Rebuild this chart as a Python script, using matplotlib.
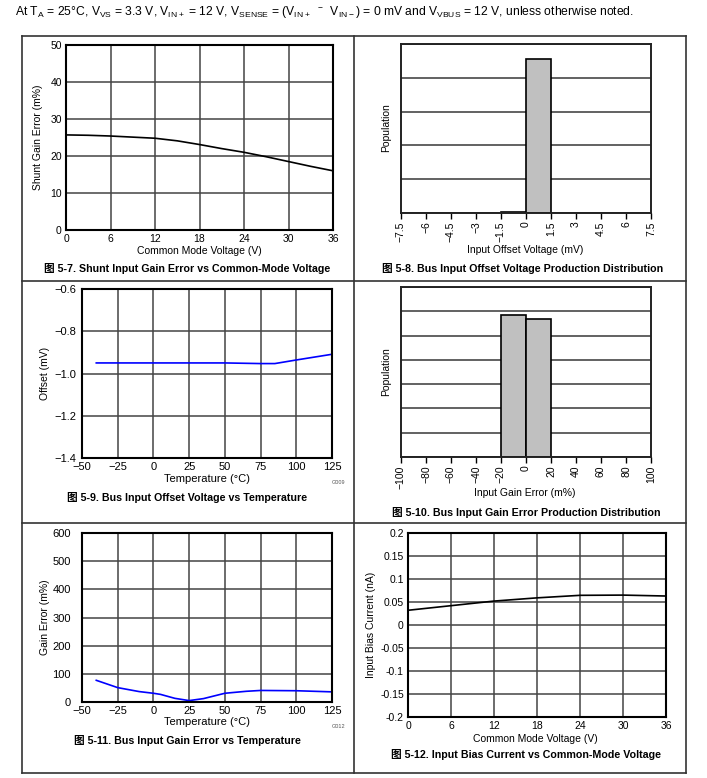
import matplotlib
matplotlib.use("Agg")
import matplotlib.pyplot as plt
from matplotlib.lines import Line2D
from matplotlib.ticker import FuncFormatter, MultipleLocator

plt.rcParams['font.family'] = ['Liberation Sans', 'Noto Sans CJK SC', 'DejaVu Sans']
plt.rcParams['mathtext.fontset'] = 'custom'
plt.rcParams['mathtext.rm'] = 'Liberation Sans'

# Data ----------------------------------------------------------------------------------------
# 5-7 shunt input gain error vs common-mode voltage
cmVolt = [0, 3, 6, 9, 12, 15, 18, 21, 24, 27, 30, 33, 36]
shuntGainErr = [25.7, 25.6, 25.4, 25.1, 24.8, 24.1, 23.1, 22.0, 21.0, 19.8, 18.5, 17.2, 16.0]

# 5-8 bus input offset voltage distribution (bin left edge, relative population)
offsetBins = [-1.5, 0.0]
offsetPop = [0.04, 4.56]
offsetBinWidth = 1.5

# 5-9 bus input offset vs temperature
tempOffset = [-40, -25, 0, 25, 50, 75, 85, 100, 125]
busOffset = [-0.950, -0.950, -0.950, -0.950, -0.950, -0.953, -0.953, -0.936, -0.909]

# 5-10 bus input gain error distribution
gainBins = [-20, 0]
gainPop = [5.83, 5.67]
gainBinWidth = 20

# 5-11 bus input gain error vs temperature
tempGain = [-40, -25, -10, 0, 5, 15, 25, 35, 50, 65, 75, 100, 125]
busGainErr = [77, 51, 37, 31, 27, 13, 5, 12, 31, 38, 41, 40, 36]

# 5-12 input bias current vs common-mode voltage
cmVoltBias = [0, 6, 12, 18, 24, 30, 36]
biasCurrent = [0.032, 0.042, 0.052, 0.059, 0.0645, 0.065, 0.063]
# ---------------------------------------------------------------------------------------------

W, H = 707, 778
fig = plt.figure(figsize=(W/100, H/100), dpi=100)


def rect(l, t, r, b):
    return [l/W, 1 - b/H, (r - l)/W, (b - t)/H]


def ftext(x, y, s, **kw):
    kw.setdefault('ha', 'center')
    kw.setdefault('va', 'center')
    fig.text(x/W, 1 - y/H, s, **kw)


def uminus(fmt):
    return FuncFormatter(lambda v, p: (fmt % v).replace('-', '\u2212'))


capFont = dict(fontsize=7.7, fontweight='bold', family=['Liberation Sans', 'Noto Sans CJK SC'])
gridKw = dict(color='#444444', lw=1.1)


def line_axes(box, xlim, xstep, ylim, ystep, tick_fs):
    ax = fig.add_axes(rect(*box))
    ax.set_xlim(*xlim)
    ax.set_ylim(*ylim)
    ax.xaxis.set_major_locator(MultipleLocator(xstep))
    ax.yaxis.set_major_locator(MultipleLocator(ystep))
    ax.grid(True, **gridKw)
    ax.tick_params(length=0, labelsize=tick_fs, pad=3)
    for s in ax.spines.values():
        s.set_linewidth(1.5)
        s.set_color('black')
    ax.set_axisbelow(True)
    return ax


def hist_axes(box, xlim, xstep, ylim):
    ax = fig.add_axes(rect(*box))
    ax.set_xlim(*xlim)
    ax.set_ylim(*ylim)
    ax.xaxis.set_major_locator(MultipleLocator(xstep))
    ax.yaxis.set_major_locator(MultipleLocator(1))
    ax.grid(True, axis='y', color='#555555', lw=1.3)
    ax.set_yticklabels([])
    ax.tick_params(axis='y', length=0)
    ax.tick_params(axis='x', length=4, width=1, direction='out', labelsize=7.5, labelrotation=90, pad=2)
    for s in ax.spines.values():
        s.set_linewidth(1.4)
        s.set_color('#222222')
    ax.set_axisbelow(True)
    return ax


# Header -------------------------------------------------------------------------------------
ftext(15, 12, r'At T$_\mathregular{A}$ = 25°C, V$_\mathregular{VS}$ = 3.3 V, V$_\mathregular{IN+}$ = 12 V, '
      r'V$_\mathregular{SENSE}$ = (V$_\mathregular{IN+}$  $^{\mathregular{-}}$  V$_\mathregular{IN-}$) = 0 mV and '
      r'V$_\mathregular{VBUS}$ = 12 V, unless otherwise noted.', ha='left', fontsize=8.7)

# Frame lines --------------------------------------------------------------------------------
frameKw = dict(color='#333333', lw=1.2)
for (x0, y0, x1, y1) in [(22, 36, 686, 36), (22, 773, 686, 773), (22, 36, 22, 773), (686, 36, 686, 773),
                         (354, 36, 354, 773), (22, 281, 686, 281), (22, 523, 686, 523)]:
    fig.add_artist(Line2D([x0/W, x1/W], [1 - y0/H, 1 - y1/H], transform=fig.transFigure, **frameKw))

# 5-7 ----------------------------------------------------------------------------------------
ax1 = line_axes((66, 45, 333, 230), (0, 36), 6, (0, 50), 10, 7.5)
ax1.plot(cmVolt, shuntGainErr, color='black', lw=1.2)
ftext(38, 137, 'Shunt Gain Error (m%)', rotation=90, fontsize=7.5)
ftext(199, 251, 'Common Mode Voltage (V)', fontsize=7.5)
ftext(187, 268, '图 5-7. Shunt Input Gain Error vs Common-Mode Voltage', **capFont)

# 5-8 ----------------------------------------------------------------------------------------
ax2 = hist_axes((401, 44, 651, 213), (-7.5, 7.5), 1.5, (0, 5))
ax2.bar(offsetBins, offsetPop, width=offsetBinWidth, align='edge', color='#c0c0c0', edgecolor='black', lw=1.2)
ax2.xaxis.set_major_formatter(uminus('%g'))
ftext(386, 128, 'Population', rotation=90, fontsize=7.5)
ftext(525, 250, 'Input Offset Voltage (mV)', fontsize=7.5)
ftext(523, 268, '图 5-8. Bus Input Offset Voltage Production Distribution', **capFont)

# 5-9 ----------------------------------------------------------------------------------------
ax3 = line_axes((82, 289, 332, 458), (-50, 125), 25, (-1.4, -0.6), 0.2, 8)
ax3.yaxis.set_major_formatter(uminus('%.1f'))
ax3.xaxis.set_major_formatter(uminus('%g'))
ax3.tick_params(axis='y', pad=4)
ax3.plot(tempOffset, busOffset, color='#0000ff', lw=1.2)
ftext(45, 373, 'Offset (mV)', rotation=90, fontsize=7.5)
ftext(207, 479, 'Temperature (°C)', fontsize=8)
ftext(339, 483, 'G009', fontsize=4, color='#555555')
ftext(187, 497, '图 5-9. Bus Input Offset Voltage vs Temperature', **capFont)

# 5-10 ---------------------------------------------------------------------------------------
ax4 = hist_axes((401, 287, 651, 457), (-100, 100), 20, (0, 7))
ax4.bar(gainBins, gainPop, width=gainBinWidth, align='edge', color='#c0c0c0', edgecolor='black', lw=1.2)
ax4.xaxis.set_major_formatter(uminus('%g'))
ftext(386, 372, 'Population', rotation=90, fontsize=7.5)
ftext(525, 493, 'Input Gain Error (m%)', fontsize=7.5)
ftext(526, 512, '图 5-10. Bus Input Gain Error Production Distribution', **capFont)

# 5-11 ---------------------------------------------------------------------------------------
ax5 = line_axes((82, 533, 332, 702), (-50, 125), 25, (0, 600), 100, 8)
ax5.xaxis.set_major_formatter(uminus('%g'))
ax5.tick_params(axis='y', pad=8)
ax5.plot(tempGain, busGainErr, color='#0000ff', lw=1.2)
ftext(45, 617, 'Gain Error (m%)', rotation=90, fontsize=7.5)
ftext(207, 722, 'Temperature (°C)', fontsize=8)
ftext(339, 727, 'G012', fontsize=4, color='#555555')
ftext(187, 741, '图 5-11. Bus Input Gain Error vs Temperature', **capFont)

# 5-12 ---------------------------------------------------------------------------------------
ax6 = line_axes((408, 533, 666, 717), (0, 36), 6, (-0.2, 0.2), 0.05, 7.5)
ax6.yaxis.set_major_formatter(FuncFormatter(lambda v, p: '%g' % round(v, 3)))
ax6.plot(cmVoltBias, biasCurrent, color='black', lw=1.2)
ftext(371, 625, 'Input Bias Current (nA)', rotation=90, fontsize=7.5)
ftext(535, 739, 'Common Mode Voltage (V)', fontsize=7.5)
ftext(526, 755, '图 5-12. Input Bias Current vs Common-Mode Voltage', **capFont)

fig.savefig('out.png', dpi=100)
